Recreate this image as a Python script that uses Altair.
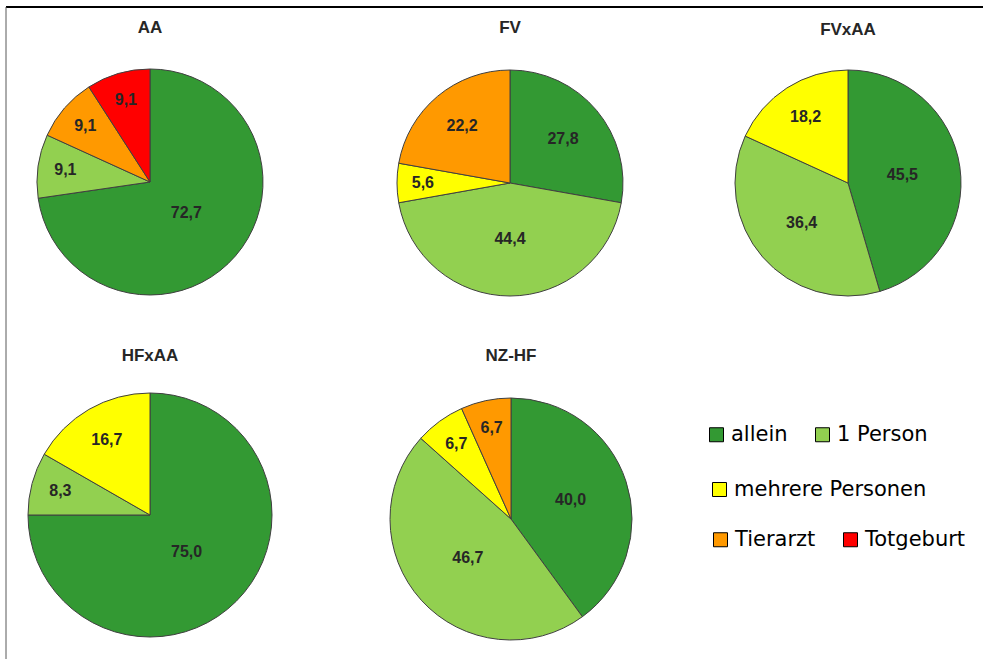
import altair as alt
import pandas as pd

# ---- data -------------------------------------------------------------
categories = ["allein", "1 Person", "mehrere Personen", "Tierarzt", "Totgeburt"]
colors = ["#339933", "#92D050", "#FFFF00", "#FF9900", "#FF0000"]

groups = ["AA", "FV", "FVxAA", "HFxAA", "NZ-HF"]
aa = [72.7, 9.1, 0.0, 9.1, 9.1]
fv = [27.8, 44.4, 5.6, 22.2, 0.0]
fvxaa = [45.5, 36.4, 18.2, 0.0, 0.0]
hfxaa = [75.0, 8.3, 16.7, 0.0, 0.0]
nzhf = [40.0, 46.7, 6.7, 6.7, 0.0]
series = [aa, fv, fvxaa, hfxaa, nzhf]

# legend rows (as in the original, wrapped over three lines)
legend_rows = [["allein", "1 Person"], ["mehrere Personen"], ["Tierarzt", "Totgeburt"]]

# ---- layout -----------------------------------------------------------
W, H = 983, 659
layout = {  # centre x, centre y, radius, title y
    "AA": (150, 182, 113, 28),
    "FV": (510, 183, 113, 28),
    "FVxAA": (848, 183, 113, 30),
    "HFxAA": (150, 515, 122, 356),
    "NZ-HF": (511, 519, 121, 356),
}
legend_pos = [(706, 424), (709, 479), (710, 529)]

color_scale = alt.Scale(domain=categories, range=colors)

layers = []

# frame lines (top and left edge of the chart area)
one = alt.Data(values=[{}])
layers.append(alt.Chart(one).mark_rule(color="#000000", strokeWidth=2).encode(
    x=alt.value(6), x2=alt.value(W), y=alt.value(7)))
layers.append(alt.Chart(one).mark_rule(color="#595959", strokeWidth=1).encode(
    x=alt.value(6), y=alt.value(7), y2=alt.value(H)))

for name, vals in zip(groups, series):
    cx, cy, r, ty = layout[name]
    df = pd.DataFrame({
        "idx": list(range(len(categories))),
        "cat": categories,
        "value": vals,
    })
    df = df[df["value"] > 0]

    arc = alt.Chart(df).mark_arc(radius=r, stroke="#404040", strokeWidth=1).encode(
        x=alt.value(cx), y=alt.value(cy),
        theta=alt.Theta("value:Q", stack=True),
        order=alt.Order("idx:Q"),
        color=alt.Color("cat:N", scale=color_scale, legend=None),
    )
    text = alt.Chart(df).transform_joinaggregate(
        total="sum(value)"
    ).transform_window(
        cum="sum(value)", sort=[alt.SortField("idx", order="ascending")]
    ).transform_calculate(
        label="replace(format(datum.value, '.1f'), '.', ',')",
        mid="2*PI*(datum.cum - datum.value/2)/datum.total",
        lr=f"{r}*(0.42+0.36*exp(-pow(datum.value/datum.total/0.35, 2)))",
    ).mark_text(font="Liberation Sans", fontSize=16, fontWeight="bold",
                color="#262626").encode(
        x=alt.value(cx), y=alt.value(cy),
        theta=alt.Theta("mid:Q", scale=None, stack=False),
        radius=alt.Radius("lr:Q", scale=None),
        text="label:N",
    )
    title = alt.Chart(one).mark_text(font="Liberation Sans", fontSize=17,
                                     fontWeight="bold", color="#262626").encode(
        x=alt.value(cx), y=alt.value(ty), text=alt.value(name))
    layers += [arc, text, title]

# legends: one per row, positioned like the original
for row, (lx, ly) in zip(legend_rows, legend_pos):
    row_colors = [colors[categories.index(c)] for c in row]
    ldf = pd.DataFrame({"cat": row})
    layers.append(
        alt.Chart(ldf).mark_square(filled=True, opacity=1, size=196,
                                   stroke="black", strokeWidth=1).encode(
            x=alt.value(-300), y=alt.value(-300),
            color=alt.Color(
                "cat:N", title=None,
                scale=alt.Scale(domain=row, range=row_colors),
                legend=alt.Legend(
                    orient="none", legendX=lx, legendY=ly, direction="horizontal",
                    padding=0, symbolType="square", symbolSize=196,
                    symbolStrokeColor="black", symbolStrokeWidth=1,
                    symbolOpacity=1, labelFont="DejaVu Sans", labelFontSize=21,
                    labelColor="#000000", labelOffset=4, columnPadding=24,
                    labelLimit=0,
                ),
            ),
        )
    )

chart = alt.layer(*layers).resolve_scale(
    color="independent", theta="independent"
).resolve_legend(color="independent").properties(
    width=W, height=H, autosize=alt.AutoSizeParams(type="none"), padding=0,
    background="white",
).configure_view(strokeWidth=0)

chart.save("out.html", embed_options={"renderer": "svg", "actions": False})
